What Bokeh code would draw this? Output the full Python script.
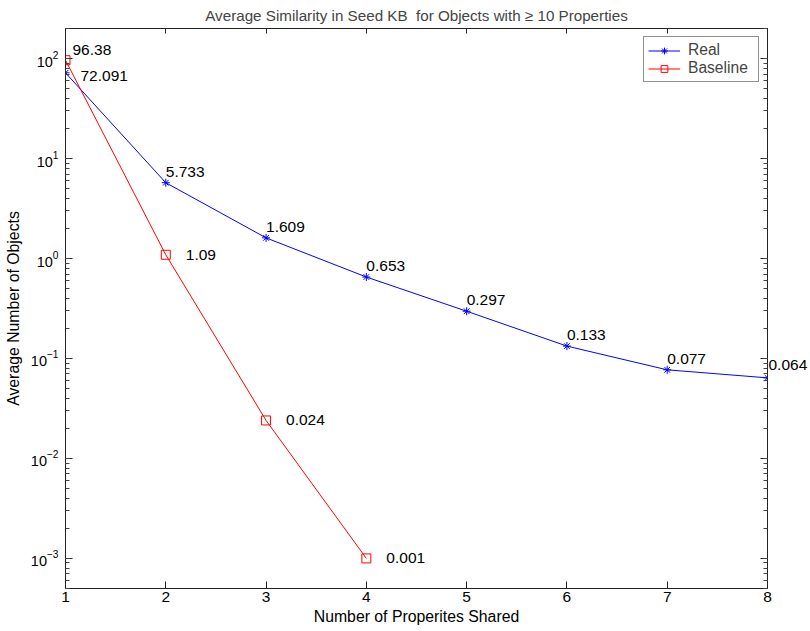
from bokeh.plotting import figure
from bokeh.models import (LogAxis, LinearAxis, Range1d, Legend, LegendItem,
                          FixedTicker, LogTicker, ColumnDataSource, LabelSet, LogScale)
from bokeh.embed import file_html
from bokeh.resources import INLINE
from bokeh.core.properties import value

# ---- data ----
shared = [1, 2, 3, 4, 5, 6, 7, 8]
real = [72.091, 5.733, 1.609, 0.653, 0.297, 0.133, 0.077, 0.064]
real_labels = ["72.091", "5.733", "1.609", "0.653", "0.297", "0.133", "0.077", "0.064"]
base_x = [1, 2, 3, 4]
baseline = [96.38, 1.09, 0.024, 0.001]
base_labels = ["96.38", "1.09", "0.024", "0.001"]
x_ticks = [1, 2, 3, 4, 5, 6, 7, 8]
y_lo, y_hi = 0.0005, 200

FONT = "Liberation Sans"
LBL = "15.5px"

p = figure(width=810, height=631, y_axis_type="log",
           x_range=Range1d(1, 8), y_range=Range1d(y_lo, y_hi),
           output_backend="svg", toolbar_location=None,
           min_border_left=65, min_border_right=41, min_border_bottom=43,
           min_border_top=10)
p.title.text = "Average Similarity in Seed KB \u00a0for Objects with \u2265 10 Properties"
p.title.align = "center"
p.title.offset = -6
p.title.text_font = FONT
p.title.text_font_size = "15.2px"
p.title.text_font_style = "normal"
p.title.standoff = 9
p.grid.visible = False
p.outline_line_color = "#222222"

blue = "#0000ff"
red = "#ff0000"

r_real_line = p.line(shared, real, line_color=blue, line_width=1)
r_real_pts = p.scatter(shared, real, marker="asterisk", size=8, line_color=blue, line_width=1)
r_base_line = p.line(base_x, baseline, line_color=red, line_width=1)
r_base_pts = p.scatter(base_x, baseline, marker="square", size=9, line_color=red,
                       fill_color=None, line_width=1)

# data labels
def labels(xs, ys, ts, xo, yo):
    src = ColumnDataSource(dict(x=xs, y=ys, t=ts))
    ls = LabelSet(x="x", y="y", text="t", source=src, x_offset=xo, y_offset=yo,
                  text_font=value(FONT), text_font_size=value(LBL),
                  text_baseline=value("middle"), text_color=value("black"))
    p.add_layout(ls)

labels(shared[1:-1], real[1:-1], real_labels[1:-1], 0, 11)
labels(shared[:1], real[:1], real_labels[:1], 15, -3)
labels(base_x[:1], baseline[:1], base_labels[:1], 7, 10)
labels(base_x[1:], baseline[1:], base_labels[1:], 20, 0)

# axes styling
def style(ax, show_labels=True):
    ax.axis_line_color = "#222222"
    ax.major_tick_in = 7
    ax.major_tick_out = 0
    ax.minor_tick_in = 4
    ax.minor_tick_out = 0
    ax.major_tick_line_color = "#222222"
    ax.minor_tick_line_color = "#444444"
    ax.major_label_text_font = FONT
    ax.major_label_text_font_size = "14.5px"
    ax.major_label_text_color = "black"
    ax.axis_label_text_font = FONT
    ax.axis_label_text_font_size = "15.8px"
    ax.axis_label_text_font_style = "normal"
    ax.axis_label_text_color = "black"
    if not show_labels:
        ax.major_label_text_font_size = "0px"
        ax.major_label_text_color = None
        ax.major_label_standoff = 0

xa = p.xaxis[0]
xa.ticker = FixedTicker(ticks=x_ticks)
style(xa)
xa.major_label_text_font_size = "15.5px"
xa.minor_tick_line_color = None
xa.axis_label = "Number of Properites Shared"
xa.major_label_standoff = 3
xa.axis_label_standoff = 3

ya = p.yaxis[0]
ya.ticker = LogTicker(num_minor_ticks=10)
style(ya)
ya.axis_label = "Average Number of Objects"
ya.major_label_standoff = 7
ya.axis_label_standoff = 6

top = LinearAxis(ticker=FixedTicker(ticks=x_ticks))
style(top, show_labels=False)
top.minor_tick_line_color = None
top.major_tick_in = 5
p.add_layout(top, "above")

right = LogAxis(ticker=LogTicker(num_minor_ticks=10))
style(right, show_labels=False)
p.add_layout(right, "right")

# the last data label overhangs the frame: draw it as a right-side tick label
lift = 10 ** (-13 / 99.0)   # raise the label ~13 px above its point
p.extra_y_ranges = {"lab": Range1d(y_lo * lift, y_hi * lift)}
p.extra_y_scales = {"lab": LogScale()}
lab_axis = LogAxis(y_range_name="lab", ticker=FixedTicker(ticks=[real[-1]]),
                   major_label_overrides={real[-1]: real_labels[-1]})
lab_axis.axis_line_color = None
lab_axis.major_tick_line_color = None
lab_axis.minor_tick_line_color = None
lab_axis.major_tick_in = 0
lab_axis.major_tick_out = 0
lab_axis.major_label_standoff = 1
lab_axis.major_label_text_font = FONT
lab_axis.major_label_text_font_size = LBL
lab_axis.major_label_text_color = "black"
p.add_layout(lab_axis, "right")

legend = Legend(items=[
    LegendItem(label="Real", renderers=[r_real_line, r_real_pts]),
    LegendItem(label="Baseline", renderers=[r_base_line, r_base_pts]),
], location="top_right")
legend.label_text_font = FONT
legend.label_text_font_size = "15.6px"
legend.border_line_color = "#222222"
legend.border_line_width = 1
legend.margin = 8
legend.padding = 4
legend.spacing = 0
legend.glyph_width = 32
legend.glyph_height = 17
legend.label_height = 17
legend.label_width = 66
legend.label_standoff = 8
legend.background_fill_alpha = 1
p.add_layout(legend)

open("out.html", "w").write(file_html(p, INLINE))
